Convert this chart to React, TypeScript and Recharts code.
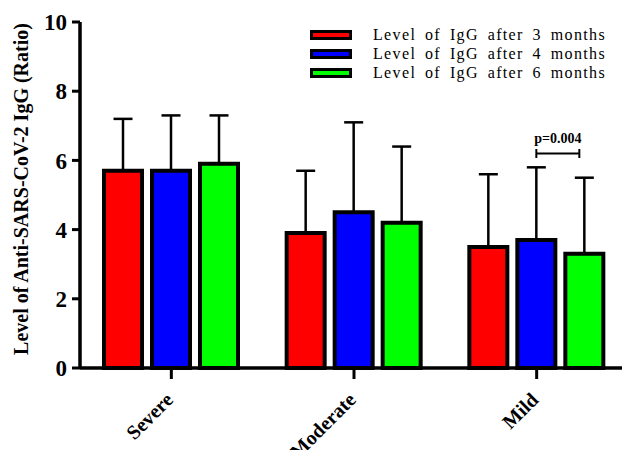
import React from 'react';
import {
  BarChart,
  Bar,
  XAxis,
  YAxis,
  ErrorBar,
  Legend,
  LabelList,
} from 'recharts';

const categories = ['Severe', 'Moderate', 'Mild'];
const seriesNames = [
  'Level of IgG after 3 months',
  'Level of IgG after 4 months',
  'Level of IgG after 6 months',
];
const seriesColors = ['#ff0000', '#0000ff', '#00ff00'];
const igg3 = [5.7, 3.9, 3.5];
const igg4 = [5.7, 4.5, 3.7];
const igg6 = [5.9, 4.2, 3.3];
const sd3 = [1.5, 1.8, 2.1];
const sd4 = [1.6, 2.6, 2.1];
const sd6 = [1.4, 2.2, 2.2];
const yTicks = [0, 2, 4, 6, 8, 10];
const pLabel = 'p=0.004';
const pCategory = 'Mild';
const pBracketY = 6.2;
const pTextY = 6.5;

const FONT = '"Liberation Serif", "Times New Roman", serif';
const BAR_SIZE = 38;
const BAR_GAP = 10;

const data = categories.map((name, i) => ({
  name,
  m3: igg3[i],
  m4: igg4[i],
  m6: igg6[i],
  e3: [0, sd3[i]],
  e4: [0, sd4[i]],
  e6: [0, sd6[i]],
}));

const keys = ['m3', 'm4', 'm6'];
const errKeys = ['e3', 'e4', 'e6'];

function LegendBox() {
  return (
    <div style={{ fontFamily: FONT }}>
      {seriesNames.map((n, i) => (
        <div
          key={n}
          style={{ display: 'flex', alignItems: 'center', height: 19.3 }}
        >
          <div
            style={{
              width: 36,
              height: 4,
              background: seriesColors[i],
              border: '3px solid #000',
              marginRight: 21,
            }}
          />
          <span
            style={{
              fontSize: 16,
              letterSpacing: 1.35,
              wordSpacing: 3.5,
              color: '#000',
              whiteSpace: 'nowrap',
            }}
          >
            {n}
          </span>
        </div>
      ))}
    </div>
  );
}

function XTick(props: any) {
  const { x, y, payload } = props;
  const px = x + 3;
  const py = y + 22;
  return (
    <text
      x={px}
      y={py}
      transform={`rotate(-45, ${px}, ${py})`}
      textAnchor="end"
      fontFamily={FONT}
      fontWeight="bold"
      fontSize={20}
      fill="#000"
    >
      {payload.value}
    </text>
  );
}

function yLabel(props: any) {
  const vb = props.viewBox;
  const tx = vb.x + 28;
  const ty = vb.y + vb.height / 2 - 6;
  return (
    <text
      x={tx}
      y={ty}
      transform={`rotate(-90, ${tx}, ${ty})`}
      textAnchor="middle"
      fontFamily={FONT}
      fontWeight="bold"
      fontSize={20}
      fill="#000"
    >
      Level of Anti-SARS-CoV-2 IgG (Ratio)
    </text>
  );
}

// bracket between the 4- and 6-month bars of one group, drawn from the blue bar's geometry
function pBracket(props: any) {
  const { index, value } = props;
  if (data[index].name !== pCategory) return null;
  const vb = props.viewBox || props;
  const { x, y, width, height } = vb;
  const base = y + height;
  const unit = height / value;
  const by = base - pBracketY * unit;
  const ty = base - pTextY * unit;
  const x1 = x + width / 2;
  const x2 = x1 + width + BAR_GAP - 5;
  return (
    <g>
      <line x1={x1} y1={by} x2={x2} y2={by} stroke="#000" strokeWidth={2} />
      <line x1={x1} y1={by - 4.5} x2={x1} y2={by + 4.5} stroke="#000" strokeWidth={2} />
      <line x1={x2} y1={by - 4.5} x2={x2} y2={by + 4.5} stroke="#000" strokeWidth={2} />
      <text
        x={(x1 + x2) / 2}
        y={ty}
        textAnchor="middle"
        fontFamily={FONT}
        fontWeight="bold"
        fontSize={14}
        fill="#000"
      >
        {pLabel}
      </text>
    </g>
  );
}

export default function App() {
  return (
    <div
      style={{
        position: 'absolute',
        left: 0,
        top: 0,
        width: 622,
        height: 450,
        overflow: 'hidden',
        background: '#fff',
      }}
    >
      <BarChart
        width={628}
        height={450}
        data={data}
        margin={{ top: 22, right: 0, left: 0, bottom: 0 }}
        barSize={BAR_SIZE}
        barGap={BAR_GAP}
      >
        <XAxis
          dataKey="name"
          height={82}
          axisLine={{ stroke: '#000', strokeWidth: 3.5 }}
          tickLine={{ stroke: '#000', strokeWidth: 3 }}
          tickSize={11}
          tickMargin={0}
          tick={<XTick />}
          interval={0}
        />
        <YAxis
          width={80}
          domain={[0, 10]}
          ticks={yTicks}
          axisLine={{ stroke: '#000', strokeWidth: 3.5 }}
          tickLine={{ stroke: '#000', strokeWidth: 3 }}
          tickSize={8}
          tickMargin={5}
          tick={{
            fontFamily: FONT,
            fontWeight: 'bold',
            fontSize: 23,
            fill: '#000',
          }}
          label={yLabel}
        />
        <Legend
          layout="horizontal"
          verticalAlign="middle"
          align="center"
          wrapperStyle={{ top: 25, left: 310, width: 312, height: 60 }}
          content={() => <LegendBox />}
        />
        {keys.map((k, i) => (
          <Bar
            key={k}
            dataKey={k}
            name={seriesNames[i]}
            fill={seriesColors[i]}
            stroke="#000"
            strokeWidth={4}
            isAnimationActive={false}
          >
            <ErrorBar
              dataKey={errKeys[i]}
              direction="y"
              width={9.5}
              stroke="#000"
              strokeWidth={2.5}
              isAnimationActive={false}
            />
            {i === 1 && <LabelList dataKey={k} content={pBracket} />}
          </Bar>
        ))}
      </BarChart>
    </div>
  );
}
